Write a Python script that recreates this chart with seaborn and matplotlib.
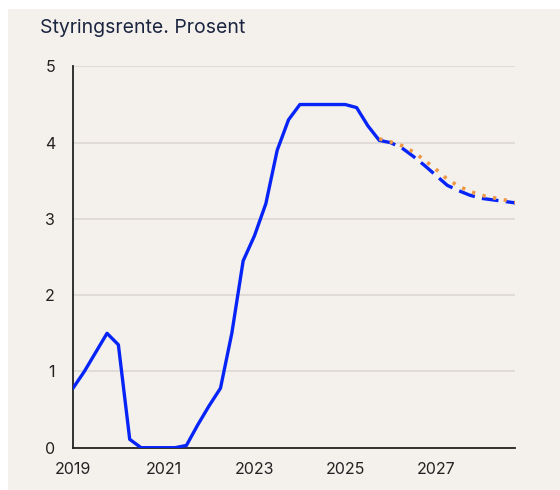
#!/usr/bin/env python3

"""Styringsrente (policy rate) with forecast paths."""

import matplotlib.pyplot as plt
import pandas as pd
import seaborn as sns
from matplotlib.patches import Rectangle

BG = "#f4f0ec"
BLUE = "#0624f7"
ORANGE = "#ee9845"

# Quarterly history, 2019Q1 .. 2025Q4
hist_x = [2019 + i * 0.25 for i in range(28)]
hist_y = [0.78, 1.0, 1.25, 1.5, 1.35, 0.11, 0.0, 0.0,
          0.0, 0.0, 0.03, 0.3, 0.55, 0.78, 1.5, 2.45,
          2.78, 3.2, 3.9, 4.3, 4.5, 4.5, 4.5, 4.5,
          4.5, 4.46, 4.22, 4.03]

# Forecast paths, 2025Q4 .. 2028Q4
fc_x = [2025.75 + i * 0.25 for i in range(13)]
fc_blue = [4.03, 4.0, 3.93, 3.82, 3.7, 3.57, 3.44, 3.37, 3.31, 3.27, 3.25, 3.23, 3.21]
fc_orange = [4.05, 4.01, 3.96, 3.88, 3.77, 3.65, 3.52, 3.43, 3.36, 3.31, 3.28, 3.25, 3.22]

x_ticks = [2019, 2021, 2023, 2025, 2027]
y_ticks = [0, 1, 2, 3, 4, 5]

sns.set_style("white")
plt.rcParams["font.family"] = ["Inter", "DejaVu Sans"]

fig = plt.figure(figsize=(5.6, 4.9), dpi=100, facecolor="white")
fig.patches.append(
    Rectangle((8 / 560, 0), 1, 481 / 490, transform=fig.transFigure,
              facecolor=BG, edgecolor="none", zorder=-10)
)
ax = fig.add_axes([73 / 560, 42.3 / 490, (515.4 - 73) / 560, (447.7 - 66.4) / 490])
ax.set_facecolor(BG)

hist = pd.DataFrame({"x": hist_x, "y": hist_y})
fc = pd.DataFrame({"x": fc_x, "blue": fc_blue, "orange": fc_orange})

sns.lineplot(hist, x="x", y="y", ax=ax, color=BLUE, lw=2.4, zorder=5)
sns.lineplot(fc, x="x", y="blue", ax=ax, color=BLUE, lw=2.4, zorder=5,
             linestyle=(0, (5, 2.2)))
sns.lineplot(fc, x="x", y="orange", ax=ax, color=ORANGE, lw=2.6, zorder=6,
             linestyle=(0, (0.9, 2.1)))

ax.set_xlim(2019, 2028.75)
ax.set_ylim(0, 5)
ax.set_xticks(x_ticks)
ax.set_yticks(y_ticks)
ax.set_xticklabels([str(t) for t in x_ticks])
ax.set_yticklabels([str(t) for t in y_ticks])
ax.yaxis.grid(True, color="#dcd7d2", lw=1.2)
ax.set_axisbelow(True)
ax.tick_params(axis="both", direction="in", length=5, width=1.2, color="#222222",
               labelsize=11.5, labelcolor="#222222")
ax.tick_params(axis="y", pad=13)
ax.tick_params(axis="x", pad=10)
for side in ["top", "right"]:
    ax.spines[side].set_visible(False)
for side in ["left", "bottom"]:
    ax.spines[side].set_color("#222222")
    ax.spines[side].set_linewidth(1.3)
ax.set_xlabel("")
ax.set_ylabel("")

fig.text(40 / 560, 1 - 28 / 490, "Styringsrente. Prosent", fontsize=14,
         color="#1c2540", va="center", ha="left")

fig.savefig("out.png", dpi=100, facecolor="white")
